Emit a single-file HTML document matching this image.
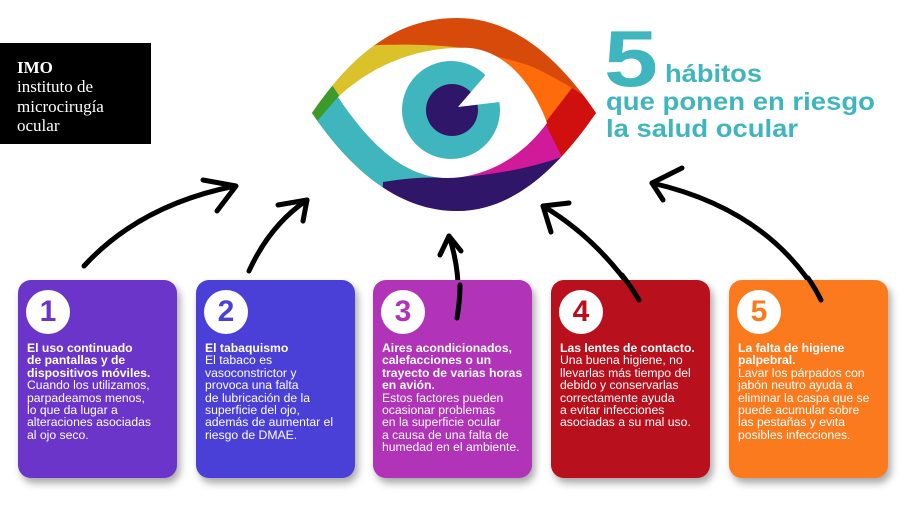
<!DOCTYPE html>
<html><head><meta charset="utf-8"><style>
body{margin:0;width:907px;height:511px;background:#fff;overflow:hidden;position:relative;font-family:"Liberation Sans",sans-serif}
.logo{position:absolute;left:0;top:43px;width:151px;height:101px;background:#000;color:#fff;font-family:"Liberation Serif",serif;}
.logo div{position:absolute;left:17px;font-size:17px;line-height:17px}
.box{position:absolute;top:280px;width:159px;height:198px;border-radius:13px;box-shadow:3px 5px 8px rgba(0,0,0,.35);color:#fff;font-size:12.2px;line-height:12.4px}
.box .c{position:absolute;left:8px;top:10px;width:44px;height:44px;border-radius:50%;background:#fff;font-weight:bold;font-size:30px;line-height:44px;text-align:center}
.box .t{position:absolute;left:9px;top:62px;width:150px}
.box b{font-weight:bold}
</style></head><body>
<div class="logo"><div style="top:16px;font-weight:bold">IMO</div><div style="top:35px">instituto de</div><div style="top:55px">microcirugía</div><div style="top:74px">ocular</div></div>

<svg width="907" height="511" style="position:absolute;left:0;top:0">
<defs><clipPath id="eye"><path d="M312,113 C355,50 400,18 457,18 C515,18 560,60 596,113 C560,165 515,211 457,211 C400,211 352,172 312,113Z"/></clipPath></defs>
<g clip-path="url(#eye)">
<rect x="300" y="0" width="310" height="240" fill="#d84a0a"/>
<path d="M300,110 L330,70 C350,55 365,48 377,45 C410,44 440,45 462,48 L468,55 L338,97Z" fill="#dcc22a"/>
<path d="M460,48 C490,55 515,60 533,67 C550,75 562,82 572,88 L547,123 L470,55Z" fill="#ff6a0a"/>
<polygon points="572,88 612,113 562,160 545,123" fill="#d0100e"/>
<polygon points="447,178 545,123 562,157 480,186" fill="#d01a9a"/>
<polygon points="300,95 330,82 340,97 320,125 300,125" fill="#3a9a2a"/>
<polygon points="318,120 338,97 447,178 390,186 380,240 300,240 300,125" fill="#3fb5bd"/>
<path d="M383,182 Q420,176 447,178 Q510,175 562,157 L610,140 L610,240 L380,240Z" fill="#301668"/>
</g>
<path d="M338,97 C380,58 430,46 470,48 C510,52 535,90 547,123 C520,160 482,178 447,178 C405,178 370,145 338,97Z" fill="#fff"/>
<circle cx="451" cy="110" r="49" fill="#3fb5bd"/>
<circle cx="452" cy="110" r="26" fill="#301668"/>
<polygon points="458,107 489,71 508,80 508,101" fill="#fff"/>

<g fill="none" stroke="#000" stroke-width="5" stroke-linecap="round" stroke-linejoin="round">
<path d="M84,266 Q140,205 235,186"/><path d="M203,180 L236,186 L217,211"/>
<path d="M249,271 Q270,225 307,200"/><path d="M278,205 L307,200 L303,221"/>
<path d="M457,318 Q462,275 449,236"/><path d="M440,255 L449,236 L461,251"/>
<path d="M639,300 Q600,240 543,206"/><path d="M551,232 L543,206 L569,203"/>
<path d="M821,300 Q770,210 652,183"/><path d="M682,168 L652,183 L663,200"/>
</g>
<g fill="#3fb5bd" font-family="Liberation Sans,sans-serif" font-weight="bold">
<text x="604" y="86" font-size="80" textLength="54" lengthAdjust="spacingAndGlyphs">5</text>
<text x="665" y="82" font-size="25" textLength="97" lengthAdjust="spacingAndGlyphs">hábitos</text>
<text x="606" y="110" font-size="25" textLength="269" lengthAdjust="spacingAndGlyphs">que ponen en riesgo</text>
<text x="606" y="137" font-size="25" textLength="192" lengthAdjust="spacingAndGlyphs">la salud ocular</text>
</g>
</svg>

<div class="box" style="left:18px;background:#6a35c8"><div class="c" style="color:#6a35c8">1</div><div class="t"><b>El uso continuado<br>de pantallas y de<br>dispositivos móviles.</b><br>Cuando los utilizamos,<br>parpadeamos menos,<br>lo que da lugar a<br>alteraciones asociadas<br>al ojo seco.</div></div>
<div class="box" style="left:196px;background:#4a3fd6"><div class="c" style="color:#4a3fd6">2</div><div class="t"><b>El tabaquismo</b><br>El tabaco es<br>vasoconstrictor y<br>provoca una falta<br>de lubricación de la<br>superficie del ojo,<br>además de aumentar el<br>riesgo de DMAE.</div></div>
<div class="box" style="left:373px;background:#b033b8"><div class="c" style="color:#b033b8">3</div><div class="t"><b>Aires acondicionados,<br>calefacciones o un<br>trayecto de varias horas<br>en avión.</b><br>Estos factores pueden<br>ocasionar problemas<br>en la superficie ocular<br>a causa de una falta de<br>humedad en el ambiente.</div></div>
<div class="box" style="left:551px;background:#b8101c"><div class="c" style="color:#b8101c">4</div><div class="t"><b>Las lentes de contacto.</b><br>Una buena higiene, no<br>llevarlas más tiempo del<br>debido y conservarlas<br>correctamente ayuda<br>a evitar infecciones<br>asociadas a su mal uso.</div></div>
<div class="box" style="left:729px;background:#fc7a1e"><div class="c" style="color:#fc7a1e">5</div><div class="t"><b>La falta de higiene<br>palpebral.</b><br>Lavar los párpados con<br>jabón neutro ayuda a<br>eliminar la caspa que se<br>puede acumular sobre<br>las pestañas y evita<br>posibles infecciones.</div></div>

<svg width="907" height="511" style="position:absolute;left:0;top:0;pointer-events:none">
<g fill="none" stroke="#000" stroke-width="5" stroke-linecap="round">
<path d="M457,318 Q460,300 460,285"/>
<path d="M639,300 Q630,285 622,275"/>
<path d="M821,300 Q815,288 808,278"/>
</g>
</svg>
</body></html>
